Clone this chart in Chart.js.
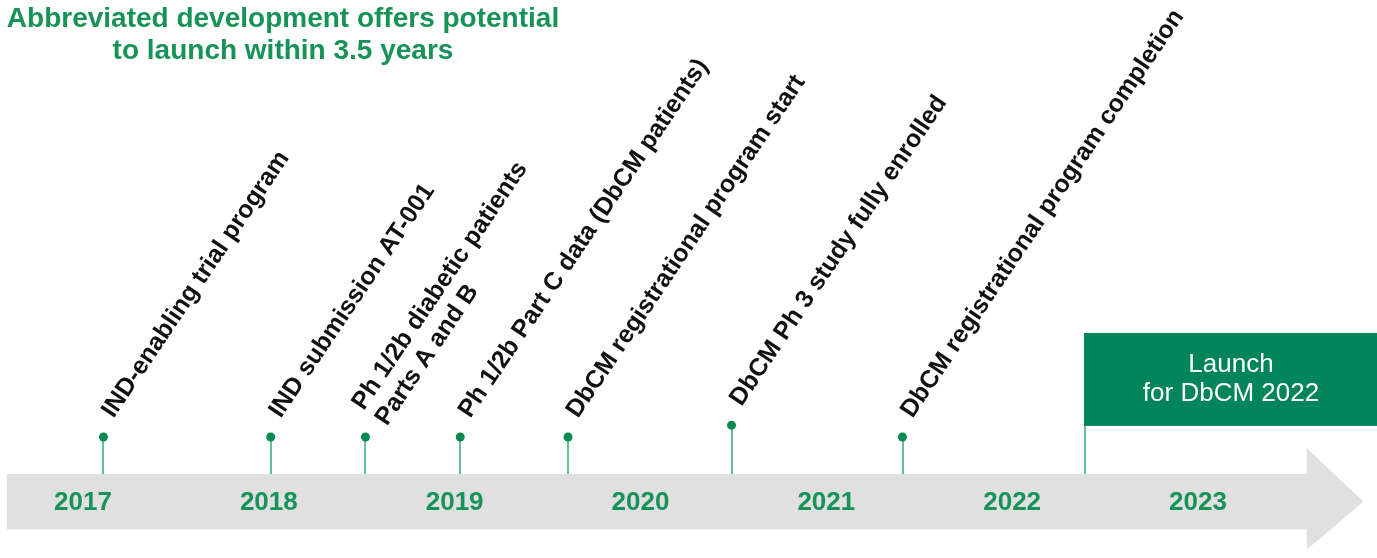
<!DOCTYPE html>
<html>
<head>
<meta charset="utf-8">
<script src="https://cdn.jsdelivr.net/npm/chart.js@4.4.1/dist/chart.umd.min.js"></script>
<style>
  html, body { margin: 0; padding: 0; background: #ffffff; overflow: hidden; }
  canvas { display: block; }
</style>
</head>
<body>
<canvas id="timeline" width="1377" height="558"></canvas>
<script>
// ---- data ----
const titleLines = ['Abbreviated development offers potential', 'to launch within 3.5 years'];
const years = [2017, 2018, 2019, 2020, 2021, 2022, 2023];
const milestoneLabels = [
  ['IND-enabling trial program'],
  ['IND submission AT-001'],
  ['Ph 1/2b diabetic patients', 'Parts A and B'],
  ['Ph 1/2b Part C data (DbCM patients)'],
  ['DbCM registrational program start'],
  ['DbCM Ph 3 study fully enrolled'],
  ['DbCM registrational program completion']
];
// fractional year of each milestone (a year's label sits at its middle)
const milestoneDates = [2017.61, 2018.51, 2019.02, 2019.53, 2020.11, 2020.99, 2021.91];
// stem height above the timeline (1 = standard stem)
const milestoneHeights = [1, 1, 1, 1, 1, 1.32, 1];
const launchLabel = ['Launch', 'for DbCM 2022'];
const launchDate = 2022.89;

// ---- styling ----
const FONT = '"Liberation Sans", Arial, Helvetica, sans-serif';
const GREEN_TEXT = '#179358';
const GREEN_DARK = '#00845a';
const GREEN_DOT = '#0b8a50';
const GREEN_STEM = '#62c393';
const ARROW_GREY = '#e0e0e0';
const LABEL_ANGLE = 56 * Math.PI / 180;

const timelinePlugin = {
  id: 'timelineDecor',
  beforeDatasetsDraw(chart) {
    const { ctx, scales: { x, y }, chartArea } = chart;
    ctx.save();

    // grey arrow running along the years
    const bodyLeft = x.getPixelForValue(2017.09);
    const headBase = x.getPixelForValue(2024.085);
    const tip = x.getPixelForValue(2024.39);
    ctx.fillStyle = ARROW_GREY;
    ctx.beginPath();
    ctx.moveTo(bodyLeft, y.getPixelForValue(0));
    ctx.lineTo(headBase, y.getPixelForValue(0));
    ctx.lineTo(headBase, y.getPixelForValue(0.7));
    ctx.lineTo(tip, y.getPixelForValue(-0.75));
    ctx.lineTo(headBase, y.getPixelForValue(-2.05));
    ctx.lineTo(headBase, y.getPixelForValue(-1.5));
    ctx.lineTo(bodyLeft, y.getPixelForValue(-1.5));
    ctx.closePath();
    ctx.fill();

    // year labels inside the arrow
    ctx.fillStyle = GREEN_TEXT;
    ctx.font = 'bold 26px ' + FONT;
    ctx.textAlign = 'center';
    ctx.textBaseline = 'middle';
    years.forEach(yr => {
      ctx.fillText(String(yr), x.getPixelForValue(yr + 0.5), y.getPixelForValue(-0.75) + 1);
    });

    // milestone stems
    ctx.strokeStyle = GREEN_STEM;
    ctx.lineWidth = 2;
    milestoneDates.forEach((d, i) => {
      const px = Math.round(x.getPixelForValue(d));
      ctx.beginPath();
      ctx.moveTo(px, y.getPixelForValue(0));
      ctx.lineTo(px, y.getPixelForValue(milestoneHeights[i]));
      ctx.stroke();
    });

    // launch flag
    const lx = Math.round(x.getPixelForValue(launchDate));
    ctx.beginPath();
    ctx.moveTo(lx, y.getPixelForValue(0));
    ctx.lineTo(lx, y.getPixelForValue(1.3));
    ctx.stroke();
    const boxTop = y.getPixelForValue(3.81);
    const boxBottom = y.getPixelForValue(1.3);
    ctx.fillStyle = GREEN_DARK;
    ctx.fillRect(lx - 1, boxTop, chartArea.right - lx + 1, boxBottom - boxTop);
    ctx.fillStyle = '#ffffff';
    ctx.font = '26px ' + FONT;
    ctx.textAlign = 'center';
    ctx.textBaseline = 'middle';
    const cx = (lx + chartArea.right) / 2;
    const cy = (boxTop + boxBottom) / 2;
    launchLabel.forEach((line, i) => {
      ctx.fillText(line, cx, cy + (i - (launchLabel.length - 1) / 2) * 29);
    });

    ctx.restore();
  },
  afterDatasetsDraw(chart) {
    const { ctx, scales: { x, y } } = chart;
    ctx.save();

    // slanted milestone captions
    ctx.fillStyle = '#111111';
    ctx.font = 'bold 25px ' + FONT;
    ctx.textAlign = 'left';
    ctx.textBaseline = 'alphabetic';
    milestoneDates.forEach((d, i) => {
      const lines = milestoneLabels[i];
      ctx.save();
      ctx.translate(x.getPixelForValue(d) + 10, y.getPixelForValue(milestoneHeights[i]) - 18);
      ctx.rotate(-LABEL_ANGLE);
      lines.forEach((line, j) => {
        ctx.fillText(line, 0, (j - (lines.length - 1) / 2) * 28);
      });
      ctx.restore();
    });

    // heading
    ctx.fillStyle = GREEN_TEXT;
    ctx.font = 'bold 28px ' + FONT;
    ctx.textAlign = 'center';
    ctx.textBaseline = 'middle';
    titleLines.forEach((line, i) => {
      ctx.fillText(line, 283, 19 + i * 32);
    });

    ctx.restore();
  }
};

new Chart(document.getElementById('timeline'), {
  type: 'scatter',
  data: {
    datasets: [{
      label: 'Milestones',
      data: milestoneDates.map((d, i) => ({ x: d, y: milestoneHeights[i] })),
      pointRadius: 4.5,
      pointHoverRadius: 4.5,
      pointBackgroundColor: GREEN_DOT,
      pointBorderWidth: 0,
      showLine: false,
      clip: false
    }]
  },
  options: {
    responsive: false,
    devicePixelRatio: 1,
    animation: false,
    events: [],
    layout: { padding: 0, autoPadding: false },
    plugins: { legend: { display: false }, tooltip: { enabled: false } },
    scales: {
      x: { type: 'linear', display: false, min: 2017.0534, max: 2024.4633 },
      y: { type: 'linear', display: false, min: -2.27, max: 12.811 }
    }
  },
  plugins: [timelinePlugin]
});
</script>
</body>
</html>
